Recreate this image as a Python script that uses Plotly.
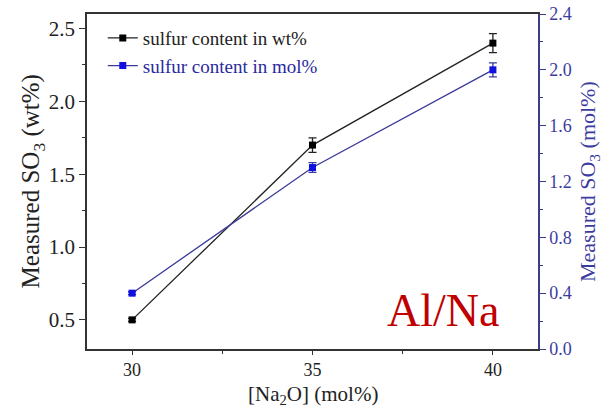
import plotly.graph_objects as go

na2o = [30, 35, 40]
so3_wt = [0.50, 1.70, 2.40]
so3_wt_err = [0.01, 0.05, 0.065]
so3_mol = [0.40, 1.30, 2.00]
so3_mol_err = [0.01, 0.035, 0.05]

BLUE_AX = "#3c3c8a"
FONT = "Liberation Serif"

fig = go.Figure()
fig.add_trace(go.Scatter(
    x=na2o, y=so3_wt, mode="lines+markers",
    name="sulfur content in wt%",
    line=dict(color="#222222", width=1.3),
    marker=dict(symbol="square", size=7, color="#000000"),
    error_y=dict(type="data", array=so3_wt_err, color="#222222", thickness=1.3, width=4),
    yaxis="y",
))
fig.add_trace(go.Scatter(
    x=na2o, y=so3_mol, mode="lines+markers",
    name='<span style="color:#2a2aa0">sulfur content in mol%</span>',
    line=dict(color="#3a3a9a", width=1.3),
    marker=dict(symbol="square", size=7, color="#1010e0"),
    error_y=dict(type="data", array=so3_mol_err, color="#3a3a9a", thickness=1.3, width=4),
    yaxis="y2",
))

fig.add_annotation(x=0.79, y=0.115, xref="paper", yref="paper", text="Al/Na",
                   showarrow=False, font=dict(family=FONT, size=46, color="#c00000"),
                   xanchor="center", yanchor="middle")
# axis titles
fig.add_annotation(x=0.5, y=-0.136, xref="paper", yref="paper",
                   text="[Na<sub>2</sub>O] (mol%)", showarrow=False,
                   font=dict(family=FONT, size=21, color="#222222"),
                   xanchor="center", yanchor="middle")
fig.add_annotation(x=-0.12, y=0.5, xref="paper", yref="paper",
                   text="Measured SO<sub>3</sub> (wt%)", showarrow=False, textangle=-90,
                   font=dict(family=FONT, size=25, color="#222222"),
                   xanchor="center", yanchor="middle")
fig.add_annotation(x=1.112, y=0.5, xref="paper", yref="paper",
                   text="Measured SO<sub>3</sub> (mol%)", showarrow=False, textangle=-90,
                   font=dict(family=FONT, size=22, color="#3c3ca0"),
                   xanchor="center", yanchor="middle")

fig.update_layout(
    width=607, height=409,
    margin=dict(l=87, r=69, t=14, b=60, autoexpand=False),
    paper_bgcolor="white", plot_bgcolor="white",
    font=dict(family=FONT, size=20, color="#222222"),
    showlegend=True,
    legend=dict(x=0.035, y=0.985, xanchor="left", yanchor="top",
                bgcolor="rgba(0,0,0,0)", font=dict(family=FONT, size=19, color="#222222"),
                tracegroupgap=0, itemwidth=30),
    xaxis=dict(
        range=[28.75, 41.25], tickvals=[30, 35, 40], ticks="outside", ticklen=4,
        tickwidth=1.3, tickcolor="#333", showline=True, linecolor="#333", linewidth=1.5,
        mirror=True, showgrid=False, zeroline=False, automargin=False,
        minor=dict(tickvals=[32.5, 37.5], ticks="outside", ticklen=3, tickcolor="#333"),
        tickfont=dict(family=FONT, size=18),
    ),
    yaxis=dict(
        range=[0.30, 2.60], tickvals=[0.5, 1.0, 1.5, 2.0, 2.5], tickformat=".1f",
        ticks="outside", ticklen=6, tickwidth=1.3, tickcolor="#333", automargin=False,
        showline=True, linecolor="#333", linewidth=1.5, showgrid=False, zeroline=False,
        minor=dict(tickvals=[0.75, 1.25, 1.75, 2.25], ticks="outside", ticklen=3, tickcolor="#333"),
        tickfont=dict(family=FONT, size=21),
    ),
    yaxis2=dict(
        overlaying="y", side="right", range=[0, 2.4], automargin=False,
        tickvals=[0.0, 0.4, 0.8, 1.2, 1.6, 2.0, 2.4], tickformat=".1f",
        ticks="outside", ticklen=6, tickwidth=1.3, tickcolor=BLUE_AX,
        showline=True, linecolor=BLUE_AX, linewidth=1.5, showgrid=False, zeroline=False,
        minor=dict(tickvals=[0.2, 0.6, 1.0, 1.4, 1.8, 2.2], ticks="outside", ticklen=3, tickcolor=BLUE_AX),
        tickfont=dict(family=FONT, size=18, color="#3c3ca0"),
    ),
)

fig.write_html("out.html")
